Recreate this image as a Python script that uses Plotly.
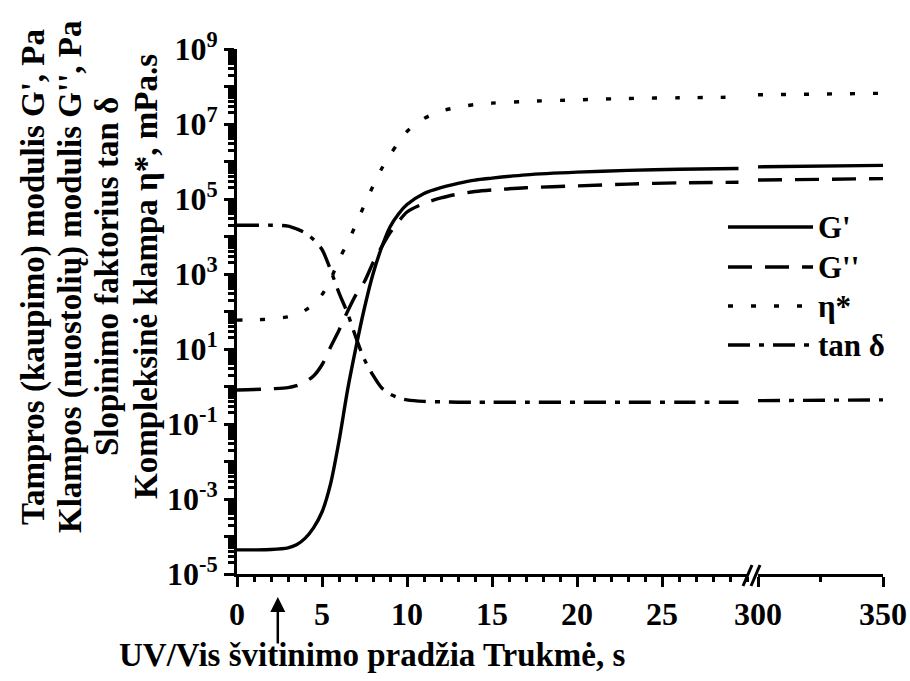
import plotly.graph_objects as go

# ---------------- data ----------------
time_a = [0, 1, 2, 3, 3.5, 4, 4.5, 5, 5.5, 6, 6.5, 7, 7.5, 8, 8.5, 9, 9.5, 10,
          11, 12, 13, 14, 15, 17, 20, 23, 26, 29.5]
time_b = [300, 325, 350]

g1_a = [4.4e-5, 4.4e-5, 4.5e-5, 5.0e-5, 6.0e-5, 8.9e-5, 1.7e-4, 4.5e-4, 2.5e-3,
        3.5e-2, 0.79, 11.2, 126, 1.0e3, 5.0e3, 1.8e4, 4.0e4, 7.1e4,
        1.4e5, 2.0e5, 2.6e5, 3.2e5, 3.6e5, 4.4e5, 5.2e5, 5.8e5, 6.2e5, 6.5e5]
g1_b = [7.2e5, 7.6e5, 7.9e5]

g2_a = [0.81, 0.83, 0.87, 0.93, 1.05, 1.32, 1.9, 3.8, 11.2, 31.6, 100, 282,
        631, 2.0e3, 5.2e3, 1.26e4, 2.5e4, 4.5e4,
        7.6e4, 1.07e5, 1.35e5, 1.58e5, 1.74e5, 2.0e5, 2.24e5, 2.5e5, 2.7e5, 2.8e5]
g2_b = [3.2e5, 3.3e5, 3.5e5]

eta_a = [59, 60, 63, 72, 83, 107, 158, 282, 708, 2.4e3, 6.8e3, 2.1e4, 7.1e4,
         2.2e5, 6.3e5, 1.5e6, 3.2e6, 6.3e6,
         1.4e7, 2.2e7, 2.8e7, 3.3e7, 3.6e7, 4.0e7, 4.4e7, 4.8e7, 5.0e7, 5.2e7]
eta_b = [6.0e7, 6.3e7, 6.6e7]

tand_a = [2.0e4, 2.0e4, 2.0e4, 1.9e4, 1.6e4, 1.26e4, 8.3e3, 4.5e3, 1.3e3, 316,
          91, 20, 5.2, 2.0, 0.93, 0.63, 0.5, 0.44,
          0.40, 0.39, 0.38, 0.38, 0.38, 0.38, 0.38, 0.38, 0.38, 0.38]
tand_b = [0.42, 0.43, 0.44]

series = [
    ("G'", g1_a, g1_b, "solid"),
    ("G''", g2_a, g2_b, "24px,13px"),
    ("η*", eta_a, eta_b, "5px,18px"),
    ("tan δ", tand_a, tand_b, "22px,9px,5px,9px"),
]

x_ticks_a = [0, 5, 10, 15, 20, 25]
x_ticks_b = [300, 350]
y_exponents = list(range(-5, 10))

# ---------------- figure ----------------
FONT = "Liberation Serif"
W, H = 910, 681
L, R, T, B = 237, 27, 49, 107
PW, PH = W - L - R, H - T - B


def px(xp):
    return (xp - L) / PW


def py(yp):
    return (H - B - yp) / PH


fig = go.Figure()
for name, va, vb, dash in series:
    fig.add_trace(go.Scatter(x=time_a, y=va, xaxis="x", yaxis="y", mode="lines",
                             line=dict(color="black", width=3.4, dash=dash, shape="spline", smoothing=0.8),
                             showlegend=False, name=name))
    fig.add_trace(go.Scatter(x=time_b, y=vb, xaxis="x2", yaxis="y", mode="lines",
                             line=dict(color="black", width=3.4, dash=dash),
                             showlegend=False, name=name))

tickfont = dict(family=FONT, size=32, color="black")

ytext = [f"<b>10<sup>{e}</sup></b>" if e % 2 != 0 else "" for e in y_exponents]

fig.update_layout(
    width=W, height=H,
    margin=dict(l=L, r=R, t=T, b=B, autoexpand=False),
    paper_bgcolor="white", plot_bgcolor="white",
    font=dict(family=FONT, color="black"),
    xaxis=dict(domain=[0, px(747)], range=[0, 30], showline=True, linewidth=3,
               linecolor="black", ticks="outside", ticklen=10, tickwidth=3,
               tickcolor="black", tickvals=x_ticks_a,
               ticktext=[f"<b>{v}</b>" for v in x_ticks_a], tickfont=tickfont,
               showgrid=False, zeroline=False, anchor="y",
               minor=dict(ticks="outside", dtick=1, ticklen=5, tickwidth=3,
                          tickcolor="black", showgrid=False)),
    xaxis2=dict(domain=[px(758), 1], range=[300, 350], showline=True, linewidth=3,
                linecolor="black", ticks="outside", ticklen=10, tickwidth=3,
                tickcolor="black", tickvals=x_ticks_b,
                ticktext=[f"<b>{v}</b>" for v in x_ticks_b], tickfont=tickfont,
                showgrid=False, zeroline=False, anchor="y",
                minor=dict(ticks="outside", dtick=25, ticklen=5, tickwidth=3,
                           tickcolor="black", showgrid=False)),
    yaxis=dict(type="log", range=[-5, 9], showline=True, linewidth=3,
               linecolor="black", ticks="outside", ticklen=10, tickwidth=3,
               tickcolor="black", tickvals=[10.0 ** e for e in y_exponents],
               ticktext=ytext, tickfont=tickfont, showgrid=False, zeroline=False,
               minor=dict(ticks="outside", dtick="D1", ticklen=6, tickwidth=2.5,
                          tickcolor="black", showgrid=False)),
)

# axis break marks
for x0 in (743, 751):
    fig.add_shape(type="line", xref="paper", yref="paper",
                  x0=px(x0), y0=py(586), x1=px(x0 + 9), y1=py(565),
                  line=dict(color="black", width=3))

# y-axis title (four lines)
title_lines = [
    ("Tampros (kaupimo) modulis G', Pa", 33),
    ("Klampos (nuostolių) modulis G'', Pa", 70),
    ("Slopinimo faktorius tan δ", 107),
    ("Kompleksinė klampa η*, mPa.s", 146),
]
for txt, xc in title_lines:
    fig.add_annotation(text=f"<b>{txt}</b>", xref="paper", yref="paper",
                       x=px(xc), y=py(277), textangle=-90, showarrow=False,
                       xanchor="center", yanchor="middle",
                       font=dict(family=FONT, size=33, color="black"))

# x-axis title
fig.add_annotation(text="<b>UV/Vis švitinimo pradžia Trukmė, s</b>", xref="paper",
                   yref="paper", x=px(372), y=py(655), showarrow=False,
                   xanchor="center", yanchor="middle",
                   font=dict(family=FONT, size=33, color="black"))

# arrow marking start of irradiation
fig.add_annotation(text="", xref="x", yref="paper", x=2.4, y=py(597),
                   ax=0, ay=48, showarrow=True, arrowhead=2, arrowsize=1.2,
                   arrowwidth=2.5, arrowcolor="black")

# manual legend
legend_rows = [227, 267, 306, 345]
for (name, va, vb, dash), yr in zip(series, legend_rows):
    fig.add_shape(type="line", xref="paper", yref="paper",
                  x0=px(728), x1=px(813), y0=py(yr), y1=py(yr),
                  line=dict(color="black", width=3.4, dash=dash))
    fig.add_annotation(text=f"<b>{name}</b>", xref="paper", yref="paper",
                       x=px(816), y=py(yr), xanchor="left", yanchor="middle",
                       showarrow=False,
                       font=dict(family=FONT, size=31, color="black"))

fig.write_html("out.html")
